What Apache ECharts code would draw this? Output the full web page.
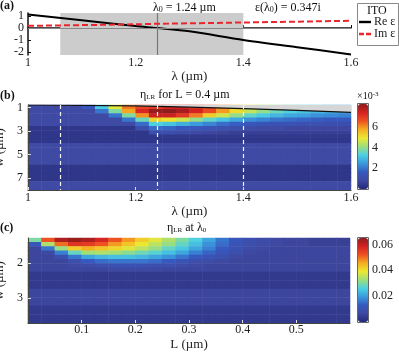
<!DOCTYPE html>
<html>
<head>
<meta charset="utf-8">
<script src="https://cdn.jsdelivr.net/npm/echarts@6/dist/echarts.min.js"></script>
<style>
html, body { margin: 0; padding: 0; background: #fff; }
#chart { width: 399px; height: 352px; }
</style>
</head>
<body>
<div id="chart"></div>
<script>
// ---- panel (a): ITO permittivity ----
const lam = [1.0, 1.1, 1.2, 1.24, 1.3, 1.4, 1.5, 1.6]
const reEps = [1.12, 0.65, 0.16, 0.0, -0.28, -1.0, -1.6, -2.2]
const imEps = [0.18, 0.24, 0.31, 0.35, 0.39, 0.46, 0.53, 0.6]
const bandLam = [1.06, 1.4]
const lam0 = 1.24

// ---- panel (b): eta_LR(lambda, w) for L = 0.4 um, units 1e-3 ----
const lamColsB = [1.0125, 1.0375, 1.0625, 1.0875, 1.1125, 1.1375, 1.1625, 1.1875, 1.2125, 1.2375, 1.2625, 1.2875,
  1.3125, 1.3375, 1.3625, 1.3875, 1.4125, 1.4375, 1.4625, 1.4875, 1.5125, 1.5375, 1.5625, 1.5875]
const wRowsB = [0.98, 1.34, 1.70, 2.06, 2.42, 2.78, 3.14, 3.50, 3.86, 4.22, 4.58, 4.94, 5.30, 5.66, 6.02, 6.38, 6.74, 7.10, 7.46, 7.82]
const etaB = [
  [0.9, 0.9, 0.9, 0.9, 1.6, 3.2, 4.8, 6.2, 6.8, 7.0, 7.3, 7.4, 7.2, 6.7, 6.1, 5.5, 4.9, 4.4, 4.0, 3.6, 3.3, 3.1, 2.9, 2.8],
  [0.9, 0.9, 0.9, 0.9, 0.9, 2.0, 3.8, 5.8, 7.3, 8.1, 8.2, 7.9, 7.4, 6.7, 5.9, 5.1, 4.5, 4.0, 3.6, 3.3, 3.1, 2.9, 2.8, 2.7],
  [0.9, 0.9, 0.9, 0.9, 0.9, 0.9, 2.0, 3.8, 6.0, 7.5, 7.5, 7.0, 6.2, 5.3, 4.6, 4.0, 3.5, 3.2, 2.9, 2.7, 2.6, 2.4, 2.3, 2.2],
  [0.9, 0.9, 0.9, 0.9, 0.9, 0.9, 0.9, 2.0, 3.6, 5.2, 5.0, 4.6, 4.0, 3.5, 3.1, 2.7, 2.4, 2.2, 2.0, 1.9, 1.8, 1.7, 1.6, 1.6],
  [0.9, 0.9, 0.9, 0.9, 0.9, 0.9, 0.9, 0.9, 1.9, 3.3, 3.1, 2.8, 2.5, 2.2, 1.9, 1.7, 1.5, 1.4, 1.3, 1.3, 1.2, 1.2, 1.1, 1.1],
  [0.35, 0.35, 0.35, 0.35, 0.35, 0.35, 0.35, 0.35, 1.1, 1.9, 1.8, 1.6, 1.5, 1.3, 1.2, 1.1, 1.0, 0.9, 0.9, 0.8, 0.8, 0.8, 0.8, 0.8],
  [0.35, 0.35, 0.35, 0.35, 0.35, 0.35, 0.35, 0.35, 0.35, 1.1, 1.1, 1.0, 0.9, 0.8, 0.7, 0.6, 0.6, 0.6, 0.6, 0.6, 0.6, 0.6, 0.6, 0.6],
  [0.35, 0.35, 0.35, 0.35, 0.35, 0.35, 0.35, 0.35, 0.35, 0.35, 0.4, 0.4, 0.4, 0.4, 0.4, 0.4, 0.4, 0.4, 0.4, 0.4, 0.4, 0.4, 0.4, 0.4],
  [0.35, 0.35, 0.35, 0.35, 0.35, 0.35, 0.35, 0.35, 0.35, 0.35, 0.35, 0.35, 0.35, 0.35, 0.35, 0.35, 0.35, 0.35, 0.35, 0.35, 0.35, 0.35, 0.35, 0.35],
  [0.9, 0.9, 0.9, 0.9, 0.9, 0.9, 0.9, 0.9, 0.9, 0.9, 0.9, 0.9, 0.9, 0.9, 0.9, 0.9, 0.9, 0.9, 0.9, 0.9, 0.9, 0.9, 0.9, 0.9],
  [0.9, 0.9, 0.9, 0.9, 0.9, 0.9, 0.9, 0.9, 0.9, 0.9, 0.9, 0.9, 0.9, 0.9, 0.9, 0.9, 0.9, 0.9, 0.9, 0.9, 0.9, 0.9, 0.9, 0.9],
  [0.9, 0.9, 0.9, 0.9, 0.9, 0.9, 0.9, 0.9, 0.9, 0.9, 0.9, 0.9, 0.9, 0.9, 0.9, 0.9, 0.9, 0.9, 0.9, 0.9, 0.9, 0.9, 0.9, 0.9],
  [0.9, 0.9, 0.9, 0.9, 0.9, 0.9, 0.9, 0.9, 0.9, 0.9, 0.9, 0.9, 0.9, 0.9, 0.9, 0.9, 0.9, 0.9, 0.9, 0.9, 0.9, 0.9, 0.9, 0.9],
  [0.9, 0.9, 0.9, 0.9, 0.9, 0.9, 0.9, 0.9, 0.9, 0.9, 0.9, 0.9, 0.9, 0.9, 0.9, 0.9, 0.9, 0.9, 0.9, 0.9, 0.9, 0.9, 0.9, 0.9],
  [0.35, 0.35, 0.35, 0.35, 0.35, 0.35, 0.35, 0.35, 0.35, 0.35, 0.35, 0.35, 0.35, 0.35, 0.35, 0.35, 0.35, 0.35, 0.35, 0.35, 0.35, 0.35, 0.35, 0.35],
  [0.35, 0.35, 0.35, 0.35, 0.35, 0.35, 0.35, 0.35, 0.35, 0.35, 0.35, 0.35, 0.35, 0.35, 0.35, 0.35, 0.35, 0.35, 0.35, 0.35, 0.35, 0.35, 0.35, 0.35],
  [0.35, 0.35, 0.35, 0.35, 0.35, 0.35, 0.35, 0.35, 0.35, 0.35, 0.35, 0.35, 0.35, 0.35, 0.35, 0.35, 0.35, 0.35, 0.35, 0.35, 0.35, 0.35, 0.35, 0.35],
  [0.35, 0.35, 0.35, 0.35, 0.35, 0.35, 0.35, 0.35, 0.35, 0.35, 0.35, 0.35, 0.35, 0.35, 0.35, 0.35, 0.35, 0.35, 0.35, 0.35, 0.35, 0.35, 0.35, 0.35],
  [0.9, 0.9, 0.9, 0.9, 0.9, 0.9, 0.9, 0.9, 0.9, 0.9, 0.9, 0.9, 0.9, 0.9, 0.9, 0.9, 0.9, 0.9, 0.9, 0.9, 0.9, 0.9, 0.9, 0.9],
  [0.9, 0.9, 0.9, 0.9, 0.9, 0.9, 0.9, 0.9, 0.9, 0.9, 0.9, 0.9, 0.9, 0.9, 0.9, 0.9, 0.9, 0.9, 0.9, 0.9, 0.9, 0.9, 0.9, 0.9]
]
// upper edge of the valid region (black line) and the dashed marker wavelengths
const wMinLam = [1.0, 1.2, 1.3, 1.4, 1.5, 1.6]
const wMin = [0.8, 0.88, 0.98, 1.1, 1.25, 1.42]
const dashLam = [1.06, 1.24, 1.4]

// ---- panel (c): eta_LR(L, w) at lambda0, units 1e-3 ----
const lColsC = [0.0125, 0.0375, 0.0625, 0.0875, 0.1125, 0.1375, 0.1625, 0.1875, 0.2125, 0.2375, 0.2625, 0.2875,
  0.3125, 0.3375, 0.3625, 0.3875, 0.4125, 0.4375, 0.4625, 0.4875, 0.5125, 0.5375, 0.5625, 0.5875]
const wRowsC = [1.36, 1.48, 1.60, 1.72, 1.84, 1.96, 2.08, 2.20, 2.32, 2.44, 2.56, 2.68, 2.80, 2.92, 3.04, 3.16, 3.28, 3.40, 3.52, 3.64]
const etaC = [
  [30, 52, 62, 64, 62, 58, 52, 47, 42, 38, 34, 30, 26, 21, 16, 12, 9, 8, 7, 6, 6, 5, 5, 5],
  [12, 34, 50, 56, 55, 52, 47, 43, 39, 35, 32, 28, 24, 19, 15, 11, 9, 8, 7, 6, 6, 5, 5, 5],
  [6, 16, 32, 42, 45, 43, 41, 38, 35, 32, 28, 25, 21, 17, 13, 10, 8, 7, 6, 6, 6, 6, 6, 6],
  [6, 7, 17, 28, 33, 34, 33, 31, 29, 27, 24, 21, 17, 14, 11, 9, 7, 6, 6, 6, 6, 6, 6, 6],
  [6, 6, 9, 16, 21, 23, 24, 24, 23, 21, 19, 16, 13, 11, 9, 7, 6, 6, 6, 6, 6, 6, 6, 6],
  [6, 6, 6, 9, 13, 15, 16, 16, 16, 15, 13, 11, 9, 8, 7, 6, 6, 6, 6, 6, 6, 6, 6, 6],
  [6, 6, 6, 7, 8, 9, 10, 10, 10, 9, 9, 8, 7, 6, 6, 6, 6, 6, 6, 6, 6, 6, 6, 6],
  [6, 6, 6, 6, 6, 6, 7, 7, 7, 7, 6, 6, 6, 6, 6, 6, 6, 6, 6, 6, 6, 6, 6, 6],
  [3.5, 3.5, 3.5, 3.5, 3.5, 3.5, 3.5, 3.5, 3.5, 3.5, 3.5, 3.5, 3.5, 3.5, 3.5, 3.5, 3.5, 3.5, 3.5, 3.5, 3.5, 3.5, 3.5, 3.5],
  [3.5, 3.5, 3.5, 3.5, 3.5, 3.5, 3.5, 3.5, 3.5, 3.5, 3.5, 3.5, 3.5, 3.5, 3.5, 3.5, 3.5, 3.5, 3.5, 3.5, 3.5, 3.5, 3.5, 3.5],
  [3.5, 3.5, 3.5, 3.5, 3.5, 3.5, 3.5, 3.5, 3.5, 3.5, 3.5, 3.5, 3.5, 3.5, 3.5, 3.5, 3.5, 3.5, 3.5, 3.5, 3.5, 3.5, 3.5, 3.5],
  [3.5, 3.5, 3.5, 3.5, 3.5, 3.5, 3.5, 3.5, 3.5, 3.5, 3.5, 3.5, 3.5, 3.5, 3.5, 3.5, 3.5, 3.5, 3.5, 3.5, 3.5, 3.5, 3.5, 3.5],
  [6, 6, 6, 6, 6, 6, 6, 6, 6, 6, 6, 6, 6, 6, 6, 6, 6, 6, 6, 6, 6, 6, 6, 6],
  [6, 6, 6, 6, 6, 6, 6, 6, 6, 6, 6, 6, 6, 6, 6, 6, 6, 6, 6, 6, 6, 6, 6, 6],
  [6, 6, 6, 6, 6, 6, 6, 6, 6, 6, 6, 6, 6, 6, 6, 6, 6, 6, 6, 6, 6, 6, 6, 6],
  [6, 6, 6, 6, 6, 6, 6, 6, 6, 6, 6, 6, 6, 6, 6, 6, 6, 6, 6, 6, 6, 6, 6, 6],
  [3.5, 3.5, 3.5, 3.5, 3.5, 3.5, 3.5, 3.5, 3.5, 3.5, 3.5, 3.5, 3.5, 3.5, 3.5, 3.5, 3.5, 3.5, 3.5, 3.5, 3.5, 3.5, 3.5, 3.5],
  [3.5, 3.5, 3.5, 3.5, 3.5, 3.5, 3.5, 3.5, 3.5, 3.5, 3.5, 3.5, 3.5, 3.5, 3.5, 3.5, 3.5, 3.5, 3.5, 3.5, 3.5, 3.5, 3.5, 3.5],
  [3.5, 3.5, 3.5, 3.5, 3.5, 3.5, 3.5, 3.5, 3.5, 3.5, 3.5, 3.5, 3.5, 3.5, 3.5, 3.5, 3.5, 3.5, 3.5, 3.5, 3.5, 3.5, 3.5, 3.5],
  [3.5, 3.5, 3.5, 3.5, 3.5, 3.5, 3.5, 3.5, 3.5, 3.5, 3.5, 3.5, 3.5, 3.5, 3.5, 3.5, 3.5, 3.5, 3.5, 3.5, 3.5, 3.5, 3.5, 3.5]
]

// tick labels
const xTicksA = [1, 1.2, 1.4, 1.6]
const yTicksA = [-2, -1, 0, 1]
const yTicksB = [1, 3, 5, 7]
const xTicksC = [0.1, 0.2, 0.3, 0.4, 0.5]
const yTicksC = [2, 3]
const cbTicksB = [2, 4, 6]
const cbTicksC = [0.02, 0.04, 0.06]

const FONT = 'Liberation Serif'
const jet = ['#232a7a', '#3f48a0', '#3659c0', '#3a98dc', '#4cd0e2', '#9ede7c', '#ece832', '#f5ae22', '#ee5222', '#d42222', '#8e1c1c']

function heat(rows, scale) {
  const out = []
  rows.forEach((row, j) => row.forEach((v, i) => out.push([i, j, v * scale])))
  return out
}

const tickLab = { fontFamily: FONT, fontSize: 12, color: '#222' }
const nameSt = { fontFamily: FONT, fontSize: 13, color: '#222' }
const hidX = (data, gi) => ({ type: 'category', gridIndex: gi, data: data, show: false, position: 'top' })
const hidY = (data, gi) => ({ type: 'category', gridIndex: gi, data: data, show: false, position: 'right', inverse: true })
const box = (l, t, w, h) => ({ left: l, top: t, width: w, height: h, outerBoundsMode: 'none', containLabel: false })

const chart = echarts.init(document.getElementById('chart'))
chart.setOption({
  animation: false,
  grid: [
    box(28, 13, 323, 42),
    box(28, 105, 323, 85),
    box(28, 238, 322, 85),
    box(358, 104, 10, 85),
    box(358, 238, 10, 84)
  ],
  xAxis: [
    {
      type: 'value', gridIndex: 0, min: 1, max: 1.6, position: 'bottom',
      name: 'λ (µm)', nameLocation: 'middle', nameGap: 9, nameTextStyle: nameSt,
      axisLine: { lineStyle: { color: '#111', width: 1.5 } },
      axisTick: { inside: true, length: 3, customValues: xTicksA, lineStyle: { color: '#111' } },
      axisLabel: { customValues: xTicksA, margin: 2, ...tickLab },
      splitLine: { show: false }
    },
    hidX(lamColsB, 1),
    {
      type: 'value', gridIndex: 1, min: 1, max: 1.6, position: 'bottom',
      name: 'λ (µm)', nameLocation: 'middle', nameGap: 4, nameTextStyle: nameSt,
      axisLine: { lineStyle: { color: '#444' } },
      axisTick: { inside: true, length: 3, customValues: xTicksA, lineStyle: { color: '#ddd' } },
      axisLabel: { customValues: xTicksA, margin: 2, ...tickLab },
      splitLine: { show: false }, z: 5
    },
    hidX(lColsC, 2),
    {
      type: 'value', gridIndex: 2, min: 0, max: 0.6, position: 'bottom',
      name: 'L (µm)', nameLocation: 'middle', nameGap: 15, nameTextStyle: nameSt,
      axisLine: { lineStyle: { color: '#444' } },
      axisTick: { inside: true, length: 3, customValues: xTicksC, lineStyle: { color: '#ddd' } },
      axisLabel: { customValues: xTicksC, margin: 1, ...tickLab },
      splitLine: { show: false }, z: 5
    },
    { type: 'value', gridIndex: 3, show: false },
    { type: 'value', gridIndex: 4, show: false }
  ],
  yAxis: [
    {
      type: 'value', gridIndex: 0, min: -2.25, max: 1.25, position: 'left',
      axisLine: { show: true, lineStyle: { color: '#111', width: 1.5 } },
      axisTick: { show: true, inside: true, length: 3, customValues: yTicksA, lineStyle: { color: '#111' } },
      axisLabel: { customValues: yTicksA, margin: 4, ...tickLab },
      splitLine: { show: false }
    },
    hidY(wRowsB, 1),
    {
      type: 'value', gridIndex: 1, min: 0.8, max: 8.0, inverse: true, position: 'left',
      name: 'w (µm)', nameLocation: 'middle', nameGap: 19, nameTextStyle: nameSt,
      axisLine: { show: true, lineStyle: { color: '#444' } },
      axisTick: { show: true, inside: true, length: 3, customValues: yTicksB, lineStyle: { color: '#ddd' } },
      axisLabel: { customValues: yTicksB, margin: 5, ...tickLab },
      splitLine: { show: false }, z: 5
    },
    hidY(wRowsC, 2),
    {
      type: 'value', gridIndex: 2, min: 1.3, max: 3.7, inverse: true, position: 'left',
      name: 'w (µm)', nameLocation: 'middle', nameGap: 17, nameTextStyle: nameSt,
      axisLine: { show: true, lineStyle: { color: '#444' } },
      axisTick: { show: true, inside: true, length: 3, customValues: yTicksC, lineStyle: { color: '#ddd' } },
      axisLabel: { customValues: yTicksC, margin: 5, ...tickLab },
      splitLine: { show: false }, z: 5
    },
    {
      type: 'value', gridIndex: 3, min: 0, max: 8.2, position: 'right', z: 10,
      axisLine: { show: false },
      axisTick: { show: true, inside: true, length: 2, customValues: cbTicksB, lineStyle: { color: '#fff' } },
      axisLabel: { customValues: cbTicksB, margin: 4, ...tickLab },
      splitLine: { show: false }
    },
    {
      type: 'value', gridIndex: 4, min: 0, max: 0.065, position: 'right', z: 10,
      axisLine: { show: false },
      axisTick: { show: true, inside: true, length: 2, customValues: cbTicksC, lineStyle: { color: '#fff' } },
      axisLabel: { customValues: cbTicksC, margin: 4, ...tickLab },
      splitLine: { show: false }
    }
  ],
  visualMap: [
    {
      type: 'continuous', seriesIndex: 2, min: 0, max: 8.2, calculable: false,
      left: 358, top: 104, itemWidth: 10, itemHeight: 85, padding: 0, text: null,
      inRange: { color: jet }
    },
    {
      type: 'continuous', seriesIndex: 4, min: 0, max: 0.065, calculable: false,
      left: 358, top: 238, itemWidth: 10, itemHeight: 84, padding: 0, text: null,
      inRange: { color: jet }
    }
  ],
  legend: {
    data: [
      { name: 'Re ε', icon: 'path://M0,0h12v2.4h-12z' },
      { name: 'Im ε', icon: 'path://M0,0h5v2.4h-5zM7,0h5v2.4h-5z' }
    ],
    orient: 'vertical', left: 359, top: 16, padding: 0,
    itemWidth: 12, itemHeight: 2.4, itemGap: 0,
    textStyle: { fontFamily: FONT, fontSize: 12, color: '#222', padding: [0, 0, 0, -2] }
  },
  series: [
    {
      name: 'Re ε', type: 'line', xAxisIndex: 0, yAxisIndex: 0, symbol: 'none', smooth: 0.3,
      data: lam.map((x, i) => [x, reEps[i]]),
      lineStyle: { color: '#000', width: 2 }, itemStyle: { color: '#000' }, z: 4,
      markArea: {
        silent: true, itemStyle: { color: '#cccccc' },
        data: [[{ xAxis: bandLam[0] }, { xAxis: bandLam[1] }]]
      },
      markLine: {
        silent: true, symbol: 'none', label: { show: false },
        data: [
          { xAxis: lam0, lineStyle: { color: '#777', width: 1.2, type: 'solid' } },
          { yAxis: 0, lineStyle: { color: '#888', width: 1, type: 'solid' } }
        ]
      }
    },
    {
      name: 'Im ε', type: 'line', xAxisIndex: 0, yAxisIndex: 0, symbol: 'none',
      data: lam.map((x, i) => [x, imEps[i]]),
      lineStyle: { color: '#e8262b', width: 2, type: [6, 3] }, itemStyle: { color: '#e8262b' }, z: 5
    },
    {
      type: 'heatmap', xAxisIndex: 1, yAxisIndex: 1, data: heat(etaB, 1),
      emphasis: { disabled: true }, progressive: 0
    },
    {
      type: 'line', xAxisIndex: 2, yAxisIndex: 2, symbol: 'none',
      data: wMinLam.map((x, i) => [x, wMin[i]]),
      lineStyle: { color: '#111', width: 1.2 },
      areaStyle: { color: '#d6d6d6', opacity: 1, origin: 'start' },
      markLine: {
        silent: true, symbol: 'none', label: { show: false },
        lineStyle: { color: '#f2f2f2', width: 1.2, type: [4, 3] },
        data: dashLam.map(x => ({ xAxis: x }))
      }
    },
    {
      type: 'heatmap', xAxisIndex: 3, yAxisIndex: 3, data: heat(etaC, 0.001),
      emphasis: { disabled: true }, progressive: 0
    }
  ],
  graphic: [
    { type: 'text', left: 0, top: 0, style: { text: '(a)', font: 'bold 12px ' + FONT, fill: '#111' } },
    { type: 'text', left: 0, top: 90, style: { text: '(b)', font: 'bold 12px ' + FONT, fill: '#111' } },
    { type: 'text', left: 0, top: 222, style: { text: '(c)', font: 'bold 12px ' + FONT, fill: '#111' } },
    {
      type: 'text', left: 153, top: 0,
      style: {
        text: 'λ{s|0} = 1.24 µm', font: '12px ' + FONT, fill: '#111',
        rich: { s: { fontSize: 8, fontFamily: FONT, verticalAlign: 'bottom', lineHeight: 8, padding: [6, 0, 0, 0] } }
      }
    },
    {
      type: 'text', left: 255, top: 0,
      style: {
        text: 'ε(λ{s|0}) = 0.347i', font: '12px ' + FONT, fill: '#111',
        rich: { s: { fontSize: 8, fontFamily: FONT, verticalAlign: 'bottom', lineHeight: 8, padding: [6, 0, 0, 0] } }
      }
    },
    {
      type: 'text', left: 140, top: 88,
      style: {
        text: 'η{s|LR} for L = 0.4 µm', font: '12px ' + FONT, fill: '#111',
        rich: { s: { fontSize: 7, fontFamily: FONT, verticalAlign: 'bottom', lineHeight: 8, padding: [6, 0, 0, 0] } }
      }
    },
    {
      type: 'text', left: 167, top: 221,
      style: {
        text: 'η{s|LR} at λ{s|0}', font: '12px ' + FONT, fill: '#111',
        rich: { s: { fontSize: 7, fontFamily: FONT, verticalAlign: 'bottom', lineHeight: 8, padding: [6, 0, 0, 0] } }
      }
    },
    {
      type: 'text', left: 357, top: 91,
      style: {
        text: '×10{p|-3}', font: '10px ' + FONT, fill: '#111',
        rich: { p: { fontSize: 7, fontFamily: FONT, verticalAlign: 'top', padding: [0, 0, 4, 0] } }
      }
    },
    { type: 'rect', shape: { x: 357.5, y: 3.5, width: 41, height: 42 }, style: { fill: 'none', stroke: '#888', lineWidth: 1 }, z: 100 },
    { type: 'text', left: 367, top: 5, style: { text: 'ITO', font: '12px ' + FONT, fill: '#111' }, z: 100 },
    { type: 'rect', shape: { x: 357.5, y: 103.5, width: 11, height: 86 }, style: { fill: 'none', stroke: '#666', lineWidth: 1 }, z: 100 },
    { type: 'rect', shape: { x: 357.5, y: 237.5, width: 11, height: 85 }, style: { fill: 'none', stroke: '#666', lineWidth: 1 }, z: 100 }
  ]
})
window.addEventListener('resize', function() {
  chart.resize()
})
</script>
</body>
</html>
